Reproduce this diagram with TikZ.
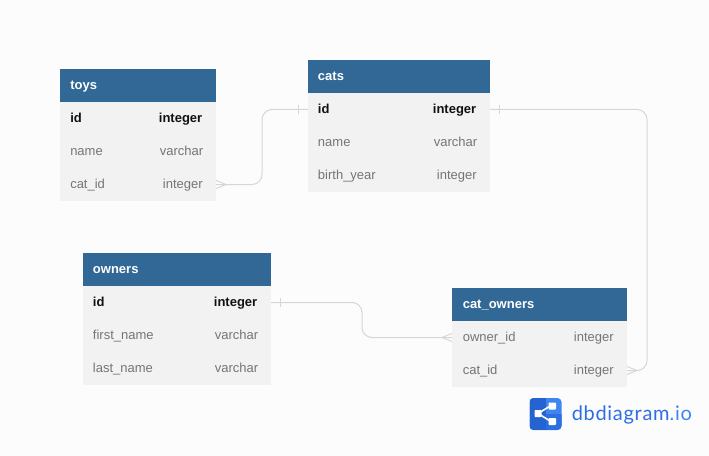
\documentclass[tikz,border=0pt]{standalone}
\usepackage{fontspec}
\setmainfont{Liberation Sans}
\newfontfamily\logofont[LetterSpace=3.5]{Lato}
\usetikzlibrary{positioning}
\definecolor{pagebg}{HTML}{FCFCFC}
\definecolor{headblue}{HTML}{316896}
\definecolor{rowbg}{HTML}{F2F2F2}
\definecolor{fieldgrey}{HTML}{757575}
\definecolor{keyblack}{HTML}{111111}
\definecolor{linkgrey}{HTML}{D6D6D6}
\definecolor{logodark}{HTML}{2563D0}
\definecolor{logomid}{HTML}{2D6FE0}
\definecolor{logolight}{HTML}{3F86F0}
\tikzset{
  x=0.75pt,y=-0.75pt,
  txt/.style={inner sep=0pt,font=\fontsize{9.75}{12}\selectfont,text=fieldgrey},
  head/.style={anchor=north west,fill=headblue,minimum height=24.75pt,inner sep=0pt,outer sep=0pt,draw=none},
  row/.style={anchor=north west,fill=rowbg,minimum height=24.75pt,inner sep=0pt,outer sep=0pt,draw=none},
  title/.style={txt,anchor=base west,text=white,font=\fontsize{9.75}{12}\selectfont\bfseries},
  fname/.style={txt,anchor=base west},
  ftype/.style={txt,anchor=base east},
  kname/.style={txt,anchor=base west,text=keyblack,font=\fontsize{9.75}{12}\selectfont\bfseries},
  ktype/.style={txt,anchor=base east,text=keyblack,font=\fontsize{9.75}{12}\selectfont\bfseries},
  link/.style={draw=linkgrey,line width=0.75pt,rounded corners=7.5pt},
  linkmark/.style={draw=linkgrey,line width=0.75pt},
}
\begin{document}
\begin{tikzpicture}
\useasboundingbox[fill=pagebg] (0,0) rectangle (709,456);
% toys
\node[head,minimum width=117pt] (toysH) at (60,69) {};
\node[row,minimum width=117pt] (toysA) at (60,102) {};
\node[row,minimum width=117pt] (toysB) at (60,135) {};
\node[row,minimum width=117pt] (toysC) at (60,168) {};
\node[title] (toysT) at (70,89.6) {toys};
\node[kname] (toysA1) at (70,122.6) {id};
\node[ktype] (toysA2) at (202.5,122.6) {integer};
\node[fname] (toysB1) at (70,155) {name};
\node[ftype] (toysB2) at (203.5,155) {varchar};
\node[fname] (toysC1) at (70,188.4) {cat\_id};
\node[ftype] (toysC2) at (203,188.4) {integer};
% cats
\node[head,minimum width=136.5pt] (catsH) at (308,60) {};
\node[row,minimum width=136.5pt] (catsA) at (308,93) {};
\node[row,minimum width=136.5pt] (catsB) at (308,126) {};
\node[row,minimum width=136.5pt] (catsC) at (308,159) {};
\node[title] (catsT) at (317.7,80.6) {cats};
\node[kname] (catsA1) at (317.7,113.6) {id};
\node[ktype] (catsA2) at (476.5,113.6) {integer};
\node[fname] (catsB1) at (317.7,146.6) {name};
\node[ftype] (catsB2) at (477.5,146.6) {varchar};
\node[fname] (catsC1) at (317.7,179) {birth\_year};
\node[ftype] (catsC2) at (477,179) {integer};
% owners
\node[head,minimum width=141pt] (ownH) at (83,253) {};
\node[row,minimum width=141pt] (ownA) at (83,286) {};
\node[row,minimum width=141pt] (ownB) at (83,319) {};
\node[row,minimum width=141pt] (ownC) at (83,352) {};
\node[title] (ownT) at (92.7,273) {owners};
\node[kname] (ownA1) at (92.7,306) {id};
\node[ktype] (ownA2) at (257.5,306) {integer};
\node[fname] (ownB1) at (92.7,339) {first\_name};
\node[ftype] (ownB2) at (258.5,339) {varchar};
\node[fname] (ownC1) at (92.7,372) {last\_name};
\node[ftype] (ownC2) at (258.5,372) {varchar};
% cat_owners
\node[head,minimum width=131.25pt] (coH) at (452,288) {};
\node[row,minimum width=131.25pt] (coA) at (452,321) {};
\node[row,minimum width=131.25pt] (coB) at (452,354) {};
\node[title] (coT) at (462.5,308) {cat\_owners};
\node[fname] (coA1) at (462.5,341) {owner\_id};
\node[ftype] (coA2) at (614,341) {integer};
\node[fname] (coB1) at (462.5,374) {cat\_id};
\node[ftype] (coB2) at (614,374) {integer};
% connectors
\coordinate (j1) at (262,0);
\draw[link] (toysC.east) -- (toysC.east -| j1) -- (catsA.west -| j1) -- (catsA.west);
\coordinate (j2) at (647,0);
\draw[link] (catsA.east) -- (catsA.east -| j2) -- (coB.east -| j2) -- (coB.east);
\coordinate (j3) at (362,0);
\draw[link] (ownA.east) -- (ownA.east -| j3) -- (coA.west -| j3) -- (coA.west);
% marks
\draw[linkmark] ([yshift=3pt]toysC.east) -- ([xshift=7.5pt]toysC.east) -- ([yshift=-3pt]toysC.east);
\draw[linkmark] ([yshift=3pt]coB.east) -- ([xshift=7.5pt]coB.east) -- ([yshift=-3pt]coB.east);
\draw[linkmark] ([yshift=3pt]coA.west) -- ([xshift=-7.5pt]coA.west) -- ([yshift=-3pt]coA.west);
\draw[linkmark] ([xshift=-7.5pt,yshift=3.4pt]catsA.west) -- ([xshift=-7.5pt,yshift=-3.4pt]catsA.west);
\draw[linkmark] ([xshift=7pt,yshift=3.4pt]catsA.east) -- ([xshift=7pt,yshift=-3.4pt]catsA.east);
\draw[linkmark] ([xshift=7pt,yshift=3.4pt]ownA.east) -- ([xshift=7pt,yshift=-3.4pt]ownA.east);
% logo
\fill[logolight,rounded corners=3pt] (529.5,398) rectangle (561.5,430);
\begin{scope}
\clip[rounded corners=3pt] (529.5,398) rectangle (561.5,430);
\fill[logodark] (529.5,398) rectangle (545.5,430);
\fill[logomid] (545.5,414) rectangle (561.5,430);
\end{scope}
\draw[white,line width=1.2pt] (538,413.5) -- (551,405.5);
\draw[white,line width=1.2pt] (538,413.5) -- (551,421.5);
\fill[white,rounded corners=0.6pt] (534.5,410) rectangle (541.5,417);
\fill[white,rounded corners=0.6pt] (548.5,402.5) rectangle (556,409.5);
\fill[white,rounded corners=0.6pt] (548.5,418) rectangle (556,425);
\node[inner sep=0pt,anchor=base west,font=\logofont\fontsize{15}{18}\selectfont,text=logomid] (logoT) at (571.5,420.5) {dbdiagram\textcolor{logolight}{.io}};
\end{tikzpicture}
\end{document}
